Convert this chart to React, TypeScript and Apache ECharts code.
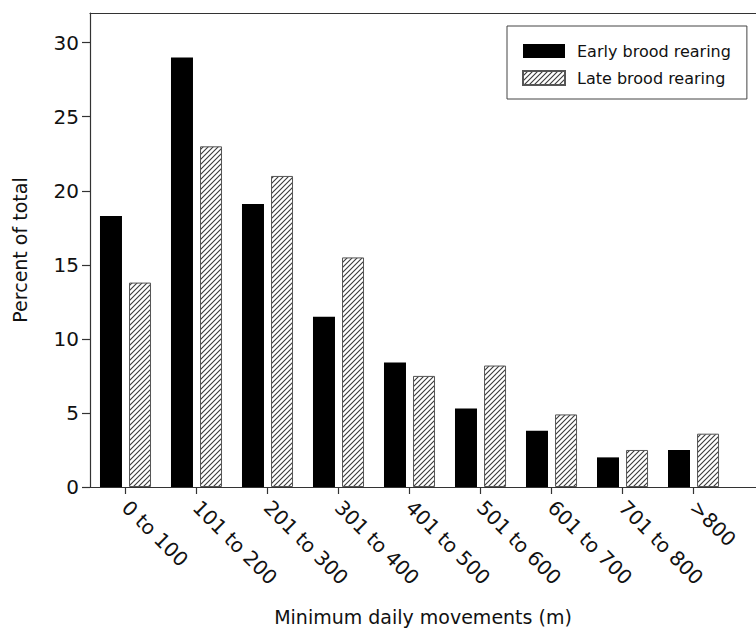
import React, { useEffect, useRef } from "react";
import * as echarts from "echarts";

const categories = ["0 to 100", "101 to 200", "201 to 300", "301 to 400", "401 to 500", "501 to 600", "601 to 700", "701 to 800", ">800"];
const earlyBrood = [18.3, 29.0, 19.1, 11.5, 8.4, 5.3, 3.8, 2.0, 2.5];
const lateBrood = [13.8, 23.0, 21.0, 15.5, 7.5, 8.2, 4.9, 2.5, 3.6];
const yTicks = [0, 5, 10, 15, 20, 25, 30];
const xPositions = categories.map((_, i) => i + 1);

const FONT = "DejaVu Sans";

function makeHatch(): HTMLCanvasElement {
  const c = document.createElement("canvas");
  const s = 5;
  c.width = s;
  c.height = s;
  const ctx = c.getContext("2d")!;
  ctx.fillStyle = "#ffffff";
  ctx.fillRect(0, 0, s, s);
  ctx.strokeStyle = "#3a3a3a";
  ctx.lineWidth = 1.1;
  ctx.beginPath();
  ctx.moveTo(-1, s + 1);
  ctx.lineTo(s + 1, -1);
  ctx.moveTo(-1, 1);
  ctx.lineTo(1, -1);
  ctx.moveTo(s - 1, s + 1);
  ctx.lineTo(s + 1, s - 1);
  ctx.stroke();
  return c;
}

export default function App() {
  const ref = useRef<HTMLDivElement>(null);
  useEffect(() => {
    if (!ref.current) return;
    const chart = echarts.init(ref.current, null, { renderer: "svg" });
    const hatch = makeHatch();
    const axisColor = "#333333";
    chart.setOption({
      animation: false,
      backgroundColor: "#ffffff",
      textStyle: { fontFamily: FONT },
      grid: { left: 90, top: 13, right: 0, bottom: 147 },
      legend: {
        orient: "vertical",
        left: 507,
        top: 26,
        padding: [17, 16, 13, 15],
        itemGap: 11,
        itemWidth: 42,
        itemHeight: 14,
        borderColor: "#444",
        borderWidth: 1,
        backgroundColor: "#fff",
        icon: "rect",
        textStyle: { fontFamily: FONT, fontSize: 16, color: "#111", lineHeight: 14, padding: [0, 0, 0, 7] },
        data: ["Early brood rearing", "Late brood rearing"],
      },
      xAxis: [
        {
          type: "value",
          position: "bottom",
          min: 0.5,
          max: 9.88,
          splitLine: { show: false },
          axisLine: { show: true, onZero: false, lineStyle: { color: axisColor, width: 1.2 } },
          axisTick: { show: true, length: 7, customValues: xPositions, lineStyle: { color: axisColor, width: 1.2 } },
          axisLabel: {
            customValues: xPositions,
            rotate: -45,
            margin: 17,
            fontFamily: FONT,
            fontSize: 20,
            color: "#111",
            formatter: (v: number) => categories[Math.round(v) - 1] ?? "",
          },
          name: "Minimum daily movements (m)",
          nameLocation: "middle",
          nameGap: 120,
          nameTextStyle: { fontFamily: FONT, fontSize: 19, color: "#111" },
        },
        {
          type: "value",
          position: "top",
          min: 0.5,
          max: 9.88,
          splitLine: { show: false },
          axisLine: { show: true, onZero: false, lineStyle: { color: axisColor, width: 1.2 } },
          axisTick: { show: false },
          axisLabel: { show: false },
        },
      ],
      yAxis: {
        type: "value",
        min: 0,
        max: 32,
        splitLine: { show: false },
        axisLine: { show: true, onZero: false, lineStyle: { color: axisColor, width: 1.2 } },
        axisTick: { show: true, length: 8, customValues: yTicks, lineStyle: { color: axisColor, width: 1.2 } },
        axisLabel: { customValues: yTicks, margin: 11, fontFamily: FONT, fontSize: 20, color: "#111" },
        name: "Percent of total",
        nameLocation: "middle",
        nameGap: 61,
        nameTextStyle: { fontFamily: FONT, fontSize: 19, color: "#111" },
      },
      series: [
        {
          name: "Early brood rearing",
          type: "bar",
          xAxisIndex: 0,
          barWidth: 22,
          barGap: "32%",
          itemStyle: { color: "#000000", borderColor: "#000000", borderWidth: 0 },
          data: earlyBrood.map((v, i) => [xPositions[i], v]),
        },
        {
          name: "Late brood rearing",
          type: "bar",
          xAxisIndex: 0,
          barWidth: 22,
          barGap: "32%",
          itemStyle: { color: { image: hatch, repeat: "repeat" }, borderColor: "#555555", borderWidth: 1 },
          data: lateBrood.map((v, i) => [xPositions[i], v]),
        },
      ],
    });
    return () => chart.dispose();
  }, []);
  return (
    <div
      ref={ref}
      style={{ position: "fixed", left: 0, top: 0, width: 756, height: 634 }}
    />
  );
}
